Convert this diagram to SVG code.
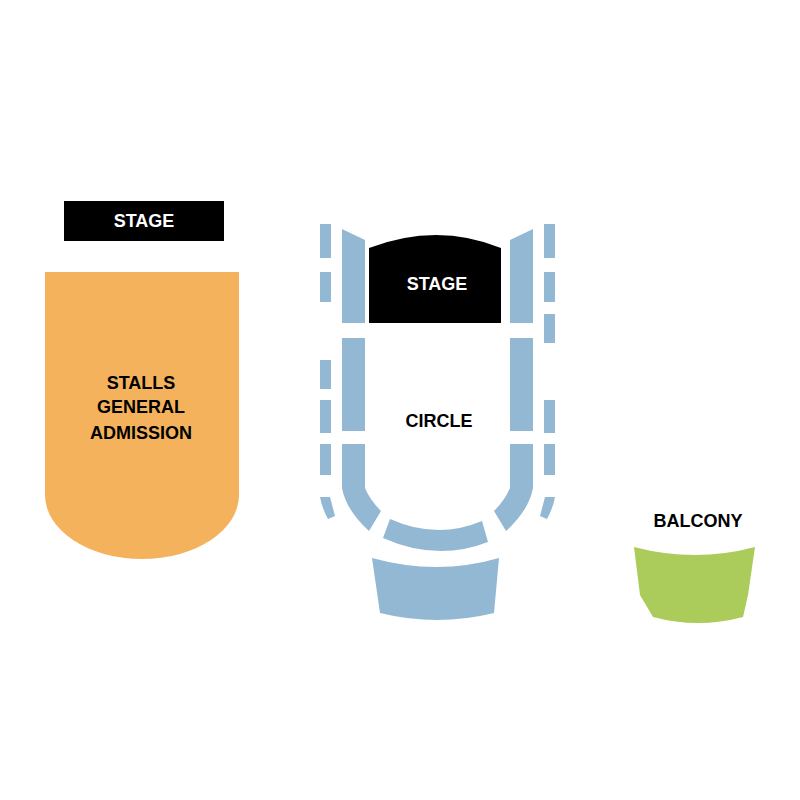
<svg xmlns="http://www.w3.org/2000/svg" width="800" height="800" viewBox="0 0 800 800">
<style>
.b{fill:#93b8d3}
.s{fill:#000}
t,text{font-family:"Liberation Sans",Arial,sans-serif;font-weight:bold;font-size:18px;text-anchor:middle}
.w{fill:#fff}
</style>
<rect width="800" height="800" fill="#fff"/>
<g id="stage-left"><rect class="s" x="64" y="201" width="160" height="40"/><text class="w" x="144" y="227">STAGE</text></g>
<g id="stalls"><path fill="#f5b25c" d="M45,272 H239 V495 A97 64 0 0 1 45,495 Z"/>
<text x="141" y="389">STALLS</text><text x="141" y="413">GENERAL</text><text x="141" y="439">ADMISSION</text></g>
<g id="circle">
<rect class="b" x="320" y="224" width="11" height="34"/>
<rect class="b" x="320" y="272" width="11" height="30"/>
<rect class="b" x="320" y="360" width="11" height="29"/>
<rect class="b" x="320" y="400" width="11" height="33"/>
<rect class="b" x="320" y="444" width="11" height="31"/>
<path class="b" d="M320,497 L330,497 L335,516 L328,519 Q322,508 320,497 Z"/>
<rect class="b" x="544" y="224" width="11" height="34"/>
<rect class="b" x="544" y="272" width="11" height="30"/>
<rect class="b" x="544" y="314" width="11" height="29"/>
<rect class="b" x="544" y="400" width="11" height="33"/>
<rect class="b" x="544" y="444" width="11" height="31"/>
<path class="b" d="M555,497 L545,497 L540,516 L547,519 Q553,508 555,497 Z"/>
<path class="b" d="M342,229 L365,240 V323 H342 Z"/>
<rect class="b" x="342" y="338" width="23" height="93"/>
<path class="b" d="M342,444 H365 V488 Q370,500 381,511 L369,531 Q346,510 342,488 Z"/>
<path class="b" d="M533,229 L510,240 V323 H533 Z"/>
<rect class="b" x="510" y="338" width="23" height="93"/>
<path class="b" d="M533,444 H510 V488 Q505,500 494,511 L506,531 Q529,510 533,488 Z"/>
<path class="b" d="M383,538 L390,519 Q437,540 482,521 L488,542 Q437,562 383,538 Z"/>
<path class="b" d="M372,558 Q437,576 499,558 L494,613 Q437,627 380,613 Z"/>
<text x="439" y="427">CIRCLE</text>
</g>
<g id="stage-circle"><path class="s" d="M369,248 Q437,222 501,248 V323 H369 Z"/><text class="w" x="437" y="290">STAGE</text></g>
<g id="balcony"><path fill="#abcb5a" d="M634,547 Q695,563 755,547 L748,595 L743,617 Q698,629 653,617 L640,595 Z"/><text x="698" y="527">BALCONY</text></g>
</svg>
